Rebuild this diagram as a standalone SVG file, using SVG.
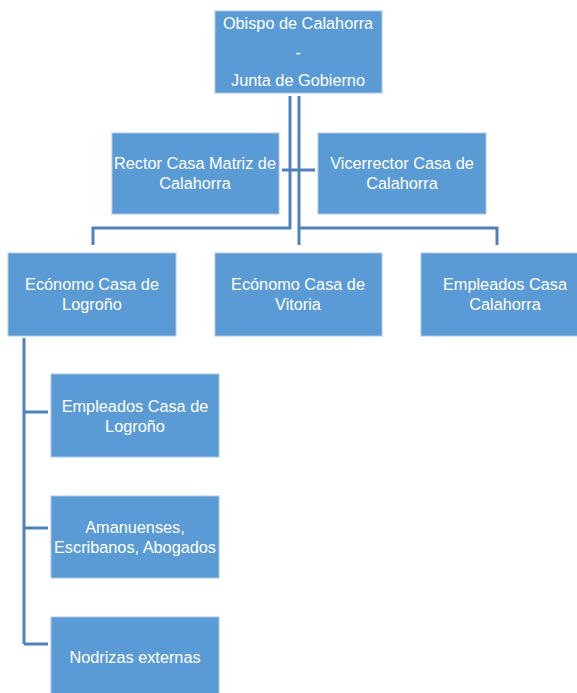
<svg xmlns="http://www.w3.org/2000/svg" width="577" height="693" viewBox="0 0 577 693">
<style>
.box{fill:#5b9bd5;stroke:#a9c8e8;stroke-width:1}
.t{font-family:"Liberation Sans",Arial,sans-serif;font-size:16.3px;fill:#ffffff;text-anchor:middle}
.c{fill:none;stroke:#4f81bd;stroke-width:3}
</style>
<rect width="577" height="693" fill="#ffffff"/>
<g id="connectors">
<path class="c" d="M290,96 V228 H93 V245"/>
<path class="c" d="M299,96 V245"/>
<path class="c" d="M299,228 H497 V245"/>
<path class="c" d="M282,170 H315"/>
<path class="c" d="M24,338 V644"/>
<path class="c" d="M24,412 H48 M24,528 H48 M24,644 H48"/>
</g>
<g id="obispo"><rect class="box" x="215" y="11" width="167" height="82"/>
<text class="t" x="298" y="29">Obispo de Calahorra</text>
<text class="t" x="298" y="58">-</text>
<text class="t" x="298" y="86">Junta de Gobierno</text></g>
<g id="rector"><rect class="box" x="112" y="133" width="167" height="81"/>
<text class="t" x="195" y="169">Rector Casa Matriz de</text>
<text class="t" x="195" y="189">Calahorra</text></g>
<g id="vicerrector"><rect class="box" x="318" y="133" width="168" height="81"/>
<text class="t" x="402" y="169">Vicerrector Casa de</text>
<text class="t" x="402" y="189">Calahorra</text></g>
<g id="economo-logrono"><rect class="box" x="8" y="253" width="168" height="83"/>
<text class="t" x="92" y="290">Ecónomo Casa de</text>
<text class="t" x="92" y="310">Logroño</text></g>
<g id="economo-vitoria"><rect class="box" x="215" y="253" width="167" height="83"/>
<text class="t" x="298" y="290">Ecónomo Casa de</text>
<text class="t" x="298" y="310">Vitoria</text></g>
<g id="empleados-calahorra"><rect class="box" x="421" y="253" width="160" height="83"/>
<text class="t" x="505" y="290">Empleados Casa</text>
<text class="t" x="505" y="310">Calahorra</text></g>
<g id="empleados-logrono"><rect class="box" x="51" y="374" width="168" height="83"/>
<text class="t" x="135" y="412">Empleados Casa de</text>
<text class="t" x="135" y="432">Logroño</text></g>
<g id="amanuenses"><rect class="box" x="51" y="496" width="168" height="82"/>
<text class="t" x="135" y="533">Amanuenses,</text>
<text class="t" x="135" y="553">Escribanos, Abogados</text></g>
<g id="nodrizas"><rect class="box" x="51" y="617" width="168" height="80"/>
<text class="t" x="135" y="663">Nodrizas externas</text></g>
</svg>
